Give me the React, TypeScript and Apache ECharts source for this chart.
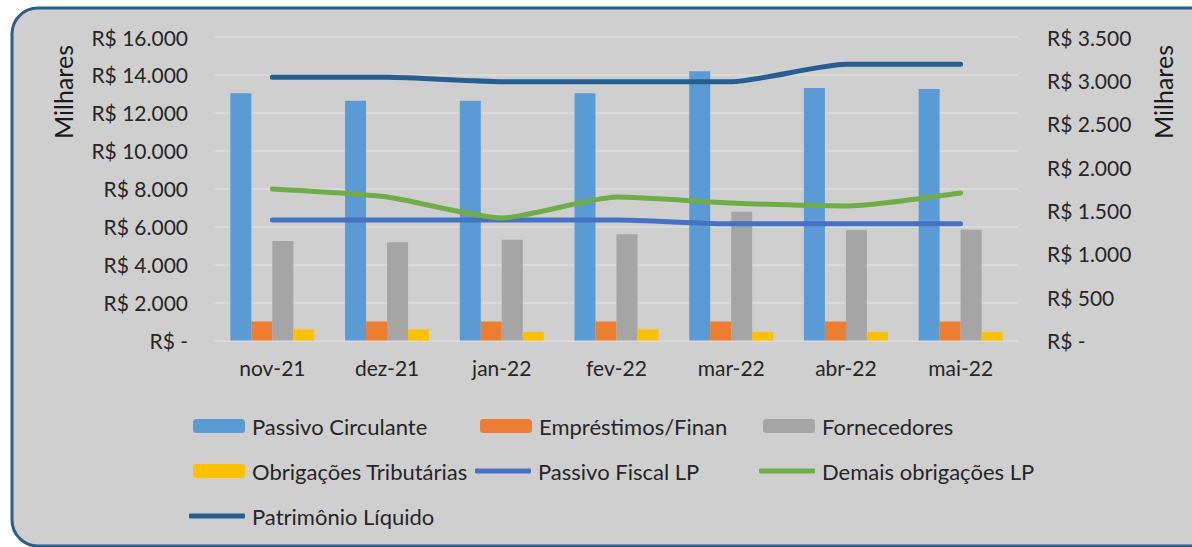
import React, { useEffect, useRef } from "react";
import * as echarts from "echarts";

const categories = ["nov-21", "dez-21", "jan-22", "fev-22", "mar-22", "abr-22", "mai-22"];
const passivoCirculante = [13030, 12640, 12640, 13030, 14190, 13310, 13260];
const emprestimos = [1000, 1000, 1000, 1000, 1000, 1000, 1000];
const fornecedores = [5250, 5180, 5310, 5600, 6790, 5830, 5840];
const obrigacoesTributarias = [590, 590, 450, 590, 450, 450, 450];
const passivoFiscalLP = [1390, 1390, 1390, 1390, 1345, 1345, 1345];
const demaisObrigacoesLP = [1747, 1655, 1413, 1655, 1586, 1551, 1701];
const patrimonioLiquido = [3035, 3035, 2985, 2985, 2985, 3185, 3185];

const FONT = "Lato";
const TXT = "#262626";

function fmt(v: number): string {
  if (v === 0) return "R$ -";
  return "R$ " + v.toLocaleString("de-DE");
}

export default function App() {
  const ref = useRef<HTMLDivElement>(null);
  useEffect(() => {
    if (!ref.current) return;
    const chart = echarts.init(ref.current, undefined, { renderer: "svg" });
    const bar = (name: string, data: number[], color: string) => ({
      name,
      type: "bar",
      data,
      barWidth: 21,
      barGap: "0%",
      itemStyle: { color },
      yAxisIndex: 0,
    });
    const line = (name: string, data: number[], color: string) => ({
      name,
      type: "line",
      data,
      yAxisIndex: 1,
      symbol: "none",
      smooth: 0.2,
      lineStyle: { color, width: 5, cap: "round" },
      itemStyle: { color },
    });
    const legendText = { fontFamily: FONT, fontSize: 22, color: TXT, padding: [0, 0, 0, 2] };
    const legendBar = (name: string, left: number, top: number) => ({
      data: [name],
      left,
      top,
      itemWidth: 52,
      itemHeight: 14,
      itemGap: 0,
      padding: 0,
      textStyle: legendText,
    });
    const legendLine = (name: string, left: number, top: number, color: string) => ({
      data: [{ name, icon: "roundRect", itemStyle: { color } }],
      left,
      top,
      itemWidth: 56,
      itemHeight: 5,
      itemGap: 0,
      padding: 0,
      textStyle: legendText,
    });
    chart.setOption({
      animation: false,
      backgroundColor: "#ffffff",
      textStyle: { fontFamily: FONT },
      graphic: [
        {
          type: "rect",
          z: -10,
          silent: true,
          shape: { x: 12, y: 8, width: 1210, height: 538, r: 26 },
          style: { fill: "#d0cfd0", stroke: "#2c5d8b", lineWidth: 3 },
        },
        {
          type: "text",
          x: 63,
          y: 92,
          rotation: Math.PI / 2,
          style: {
            text: "Milhares",
            fontFamily: FONT,
            fontSize: 25,
            fill: "#1a1a1a",
            align: "center",
            verticalAlign: "middle",
          },
        },
        {
          type: "text",
          x: 1163,
          y: 92,
          rotation: Math.PI / 2,
          style: {
            text: "Milhares",
            fontFamily: FONT,
            fontSize: 25,
            fill: "#1a1a1a",
            align: "center",
            verticalAlign: "middle",
          },
        },
      ],
      grid: { left: 215, right: 174, top: 37, bottom: 206.5, containLabel: false },
      legend: [
        legendBar("Passivo Circulante", 193, 415),
        legendBar("Empréstimos/Finan", 480, 415),
        legendBar("Fornecedores", 763, 415),
        legendBar("Obrigações Tributárias", 193, 460),
        legendLine("Passivo Fiscal LP", 475, 460, "#4472c4"),
        legendLine("Demais obrigações LP", 759, 460, "#70ad47"),
        legendLine("Patrimônio Líquido", 189, 505, "#255e91"),
      ],
      xAxis: {
        type: "category",
        data: categories,
        axisLine: { lineStyle: { color: "#dadada", width: 1.5 } },
        axisTick: { length: 6, lineStyle: { color: "#dadada", width: 1.5 } },
        axisLabel: { fontFamily: FONT, fontSize: 21, color: TXT, margin: 16 },
      },
      yAxis: [
        {
          type: "value",
          min: 0,
          max: 16000,
          interval: 2000,
          axisLine: { show: false },
          axisTick: { show: false },
          splitLine: { lineStyle: { color: "#dedede", width: 1.5 } },
          axisLabel: { fontFamily: FONT, fontSize: 21, color: TXT, margin: 27, formatter: fmt },
        },
        {
          type: "value",
          min: 0,
          max: 3500,
          interval: 500,
          position: "right",
          axisLine: { show: false },
          axisTick: { show: false },
          splitLine: { show: false },
          axisLabel: { fontFamily: FONT, fontSize: 21, color: TXT, margin: 29, formatter: fmt },
        },
      ],
      series: [
        bar("Passivo Circulante", passivoCirculante, "#5b9bd5"),
        bar("Empréstimos/Finan", emprestimos, "#ed7d31"),
        bar("Fornecedores", fornecedores, "#a5a5a5"),
        bar("Obrigações Tributárias", obrigacoesTributarias, "#ffc000"),
        line("Passivo Fiscal LP", passivoFiscalLP, "#4472c4"),
        line("Demais obrigações LP", demaisObrigacoesLP, "#70ad47"),
        line("Patrimônio Líquido", patrimonioLiquido, "#255e91"),
      ],
    });
    return () => chart.dispose();
  }, []);
  return (
    <div
      ref={ref}
      style={{ position: "absolute", left: 0, top: 0, width: 1192, height: 547 }}
    />
  );
}
